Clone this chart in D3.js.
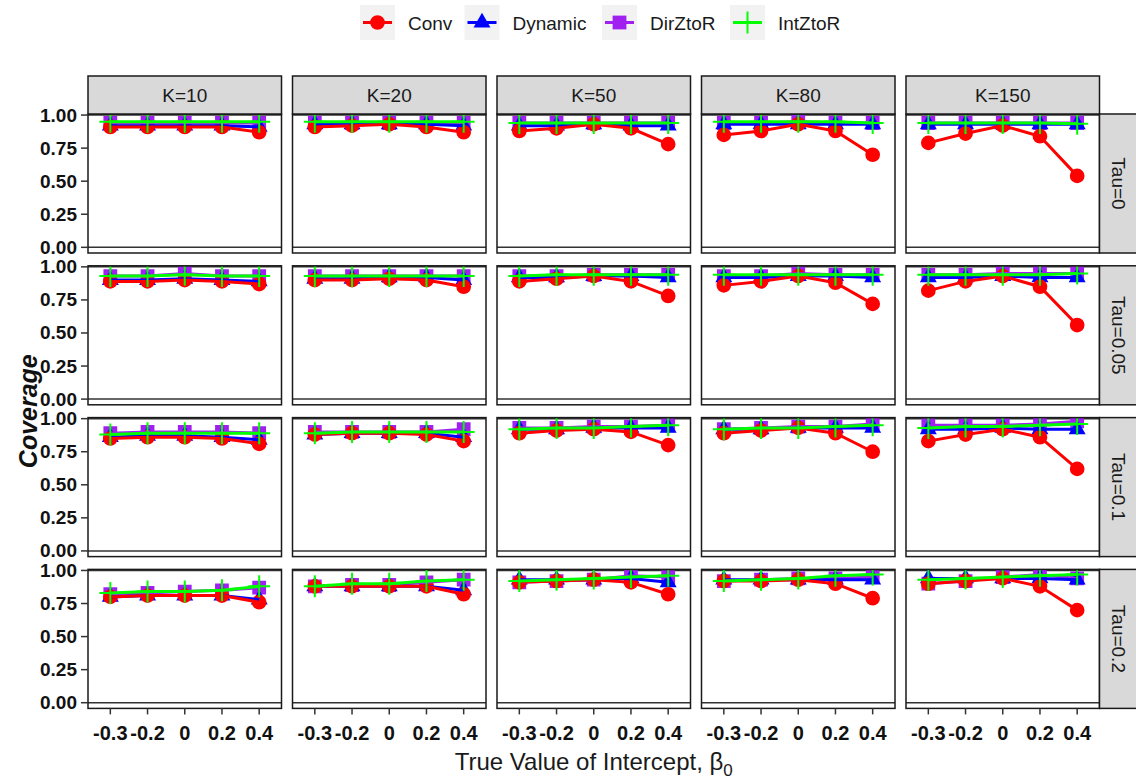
<!DOCTYPE html>
<html>
<head>
    <title>Coverage</title>
    <script src="https://d3js.org/d3.v7.min.js"></script>
    <style>
        html, body {
            margin: 0;
            padding: 0;
            background: white;
        }
        svg text {
            font-family: "Liberation Sans", Arial, sans-serif;
        }
    </style>
</head>
<body>
<div id="chart"></div>
<script>
    // facet labels and x categories
    const kLabels = ["K=10", "K=20", "K=50", "K=80", "K=150"];
    const tauLabels = ["Tau=0", "Tau=0.05", "Tau=0.1", "Tau=0.2"];
    const xLabels = ["-0.3", "-0.2", "0", "0.2", "0.4"];
    const yTicks = [0, 0.25, 0.5, 0.75, 1];

    // coverage values, [tau row][K column][x]
    const conv = [
        [[0.91, 0.91, 0.91, 0.91, 0.87], [0.91, 0.92, 0.93, 0.91, 0.87], [0.88, 0.90, 0.93, 0.90, 0.78], [0.85, 0.88, 0.93, 0.88, 0.70], [0.79, 0.86, 0.92, 0.84, 0.54]],
        [[0.89, 0.89, 0.90, 0.89, 0.87], [0.90, 0.90, 0.91, 0.90, 0.85], [0.89, 0.91, 0.93, 0.89, 0.78], [0.86, 0.89, 0.93, 0.88, 0.72], [0.82, 0.89, 0.93, 0.85, 0.56]],
        [[0.85, 0.86, 0.86, 0.85, 0.81], [0.88, 0.89, 0.89, 0.88, 0.83], [0.89, 0.91, 0.92, 0.90, 0.80], [0.89, 0.91, 0.93, 0.89, 0.75], [0.83, 0.88, 0.92, 0.86, 0.62]],
        [[0.80, 0.81, 0.81, 0.81, 0.76], [0.88, 0.88, 0.88, 0.88, 0.82], [0.91, 0.92, 0.93, 0.91, 0.82], [0.92, 0.92, 0.93, 0.90, 0.79], [0.90, 0.92, 0.94, 0.88, 0.70]]
    ];
    const dynamic = [
        [[0.92, 0.92, 0.92, 0.92, 0.91], [0.93, 0.93, 0.93, 0.93, 0.92], [0.92, 0.92, 0.93, 0.92, 0.92], [0.93, 0.93, 0.93, 0.93, 0.93], [0.93, 0.93, 0.93, 0.93, 0.93]],
        [[0.90, 0.90, 0.91, 0.90, 0.89], [0.91, 0.91, 0.92, 0.92, 0.90], [0.92, 0.92, 0.93, 0.93, 0.92], [0.92, 0.92, 0.93, 0.93, 0.92], [0.92, 0.92, 0.93, 0.92, 0.92]],
        [[0.86, 0.87, 0.87, 0.86, 0.84], [0.88, 0.89, 0.89, 0.89, 0.86], [0.92, 0.92, 0.93, 0.93, 0.93], [0.92, 0.92, 0.93, 0.93, 0.93], [0.92, 0.92, 0.93, 0.92, 0.92]],
        [[0.80, 0.81, 0.81, 0.81, 0.78], [0.88, 0.88, 0.88, 0.88, 0.85], [0.93, 0.93, 0.93, 0.94, 0.91], [0.93, 0.93, 0.93, 0.93, 0.93], [0.94, 0.94, 0.94, 0.94, 0.93]]
    ];
    const dirZtoR = [
        [[0.94, 0.94, 0.94, 0.94, 0.94], [0.94, 0.94, 0.94, 0.94, 0.94], [0.94, 0.94, 0.94, 0.94, 0.94], [0.94, 0.94, 0.95, 0.94, 0.94], [0.94, 0.94, 0.94, 0.94, 0.94]],
        [[0.93, 0.93, 0.95, 0.93, 0.93], [0.93, 0.93, 0.93, 0.93, 0.93], [0.93, 0.93, 0.94, 0.94, 0.94], [0.93, 0.93, 0.95, 0.94, 0.94], [0.94, 0.94, 0.95, 0.95, 0.95]],
        [[0.89, 0.90, 0.90, 0.90, 0.89], [0.90, 0.90, 0.90, 0.90, 0.92], [0.93, 0.93, 0.94, 0.94, 0.95], [0.92, 0.93, 0.94, 0.94, 0.96], [0.95, 0.95, 0.95, 0.96, 0.98]],
        [[0.82, 0.83, 0.84, 0.85, 0.87], [0.88, 0.89, 0.89, 0.91, 0.93], [0.91, 0.92, 0.93, 0.96, 0.95], [0.92, 0.93, 0.94, 0.94, 0.95], [0.90, 0.92, 0.95, 0.97, 0.94]]
    ];
    const intZtoR = [
        [[0.95, 0.95, 0.95, 0.95, 0.95], [0.95, 0.95, 0.95, 0.95, 0.95], [0.94, 0.94, 0.94, 0.94, 0.94], [0.95, 0.95, 0.95, 0.95, 0.94], [0.94, 0.94, 0.94, 0.94, 0.935]],
        [[0.93, 0.93, 0.94, 0.93, 0.93], [0.93, 0.93, 0.93, 0.93, 0.93], [0.93, 0.94, 0.94, 0.94, 0.94], [0.94, 0.94, 0.94, 0.94, 0.94], [0.94, 0.94, 0.94, 0.94, 0.95]],
        [[0.88, 0.89, 0.89, 0.89, 0.89], [0.89, 0.90, 0.90, 0.90, 0.90], [0.92, 0.93, 0.93, 0.94, 0.95], [0.92, 0.93, 0.93, 0.94, 0.95], [0.93, 0.94, 0.94, 0.95, 0.96]],
        [[0.83, 0.84, 0.84, 0.85, 0.88], [0.88, 0.90, 0.90, 0.92, 0.93], [0.92, 0.93, 0.94, 0.95, 0.96], [0.92, 0.93, 0.94, 0.96, 0.97], [0.93, 0.94, 0.95, 0.96, 0.97]]
    ];

    const methodNames = ["Conv", "Dynamic", "DirZtoR", "IntZtoR"];
    const methodColors = ["#ff0000", "#0000ff", "#a020f0", "#00ff00"];
    const methodData = [conv, dynamic, dirZtoR, intZtoR];

    const width = 1136, height = 781;
    const panelLeft = 88, panelPitchX = 204.5, panelW = 193.5;
    const panelTop = 114, panelPitchY = 151.8, panelH = 139;
    const stripH = 38, stripW = 38;

    const svg = d3.select("#chart").append("svg")
        .attr("width", width)
        .attr("height", height);

    const x = d3.scalePoint().domain(xLabels).range([0, panelW]).padding(0.6);
    const y = d3.scaleLinear().domain([-0.043, 1.008]).range([panelH, 0]);

    const symCircle = d3.symbol().type(d3.symbolCircle).size(170)();
    const symTriangle = d3.symbol().type(d3.symbolTriangle).size(125)();
    const symSquare = d3.symbol().type(d3.symbolSquare).size(190)();

    function drawMarker(g, m, px, py) {
        const c = methodColors[m];
        if (m === 0) {
            g.append("path").attr("d", symCircle).attr("transform", `translate(${px},${py})`).attr("fill", c);
        } else if (m === 1) {
            g.append("path").attr("d", symTriangle).attr("transform", `translate(${px},${py})`).attr("fill", c);
        } else if (m === 2) {
            g.append("path").attr("d", symSquare).attr("transform", `translate(${px},${py})`).attr("fill", c);
        } else {
            g.append("line").attr("x1", px - 11).attr("x2", px + 11).attr("y1", py).attr("y2", py)
                .attr("stroke", c).attr("stroke-width", 2);
            g.append("line").attr("x1", px).attr("x2", px).attr("y1", py - 11).attr("y2", py + 11)
                .attr("stroke", c).attr("stroke-width", 2);
        }
    }

    const line = d3.line().x((d, i) => x(xLabels[i])).y(d => y(d));

    tauLabels.forEach((tau, r) => {
        kLabels.forEach((k, c) => {
            const g = svg.append("g")
                .attr("transform", `translate(${panelLeft + c * panelPitchX},${panelTop + r * panelPitchY})`);

            g.append("rect").attr("width", panelW).attr("height", panelH).attr("fill", "white");

            const clipId = `clip-${r}-${c}`;
            g.append("clipPath").attr("id", clipId)
                .append("rect").attr("width", panelW).attr("height", panelH);
            const inner = g.append("g").attr("clip-path", `url(#${clipId})`);

            // reference lines at 0 and 1
            [0, 1].forEach(v => {
                inner.append("line").attr("x1", 0).attr("x2", panelW)
                    .attr("y1", y(v)).attr("y2", y(v))
                    .attr("stroke", "#333").attr("stroke-width", 1.5);
            });

            // points (square, triangle, circle)
            [2, 1, 0].forEach(m => {
                methodData[m][r][c].forEach((v, i) => {
                    drawMarker(inner, m, x(xLabels[i]), y(v));
                });
            });

            // lines
            [2, 1, 0, 3].forEach(m => {
                inner.append("path")
                    .datum(methodData[m][r][c])
                    .attr("d", line)
                    .attr("fill", "none")
                    .attr("stroke", methodColors[m])
                    .attr("stroke-width", 3);
            });

            // plus markers on top
            intZtoR[r][c].forEach((v, i) => drawMarker(inner, 3, x(xLabels[i]), y(v)));

            g.append("rect").attr("width", panelW).attr("height", panelH)
                .attr("fill", "none").attr("stroke", "#1a1a1a").attr("stroke-width", 1.5);

            // top strip
            if (r === 0) {
                g.append("rect").attr("x", 0).attr("y", -stripH).attr("width", panelW).attr("height", stripH)
                    .attr("fill", "#d9d9d9").attr("stroke", "#1a1a1a").attr("stroke-width", 1.5);
                g.append("text").attr("x", panelW / 2).attr("y", -stripH / 2)
                    .attr("text-anchor", "middle").attr("dominant-baseline", "central")
                    .attr("fill", "#1a1a1a").style("font-size", "19px").text(k);
            }
            // right strip
            if (c === kLabels.length - 1) {
                g.append("rect").attr("x", panelW).attr("y", 0).attr("width", stripW).attr("height", panelH)
                    .attr("fill", "#d9d9d9").attr("stroke", "#1a1a1a").attr("stroke-width", 1.5);
                g.append("text")
                    .attr("transform", `translate(${panelW + stripW / 2},${panelH / 2}) rotate(90)`)
                    .attr("text-anchor", "middle").attr("dominant-baseline", "central")
                    .attr("fill", "#1a1a1a").style("font-size", "19px").text(tau);
            }
            // y axis
            if (c === 0) {
                yTicks.forEach(t => {
                    g.append("line").attr("x1", -7).attr("x2", 0).attr("y1", y(t)).attr("y2", y(t))
                        .attr("stroke", "#333").attr("stroke-width", 1.5);
                    g.append("text").attr("x", -11).attr("y", y(t))
                        .attr("text-anchor", "end").attr("dominant-baseline", "central")
                        .attr("fill", "#111").style("font-size", "19px").style("font-weight", "bold")
                        .text(d3.format(".2f")(t));
                });
            }
            // x axis
            if (r === tauLabels.length - 1) {
                xLabels.forEach(l => {
                    g.append("line").attr("x1", x(l)).attr("x2", x(l)).attr("y1", panelH).attr("y2", panelH + 6)
                        .attr("stroke", "#333").attr("stroke-width", 1.5);
                    g.append("text").attr("x", x(l)).attr("y", panelH + 25)
                        .attr("text-anchor", "middle").attr("dominant-baseline", "central")
                        .attr("fill", "#111").style("font-size", "20px").style("font-weight", "bold")
                        .text(l);
                });
            }
        });
    });

    // axis titles
    const plotMidX = panelLeft + (4 * panelPitchX + panelW) / 2;
    const xTitle = svg.append("text").attr("x", plotMidX).attr("y", 770)
        .attr("text-anchor", "middle").attr("fill", "#1a1a1a").style("font-size", "24px");
    xTitle.append("tspan").text("True Value of Intercept, ");
    xTitle.append("tspan").text("β");
    xTitle.append("tspan").attr("dy", 6).style("font-size", "17px").text("0");

    const plotMidY = panelTop + (3 * panelPitchY + panelH) / 2;
    svg.append("text")
        .attr("transform", `translate(28,${plotMidY}) rotate(-90)`)
        .attr("text-anchor", "middle").attr("dominant-baseline", "central")
        .attr("fill", "#111").style("font-size", "25px")
        .style("font-weight", "bold").style("font-style", "italic")
        .text("Coverage");

    // legend
    const legendX = [360, 464.5, 602, 730];
    methodNames.forEach((name, m) => {
        const lg = svg.append("g").attr("transform", `translate(${legendX[m]},5)`);
        lg.append("rect").attr("width", 35).attr("height", 35).attr("fill", "#f2f2f2");
        lg.append("line").attr("x1", 3).attr("x2", 32).attr("y1", 17.5).attr("y2", 17.5)
            .attr("stroke", methodColors[m]).attr("stroke-width", 3);
        drawMarker(lg, m, 17.5, 17.5);
        lg.append("text").attr("x", 48).attr("y", 18.5)
            .attr("dominant-baseline", "central").attr("fill", "#1a1a1a")
            .style("font-size", "19px").text(name);
    });
</script>
</body>
</html>
